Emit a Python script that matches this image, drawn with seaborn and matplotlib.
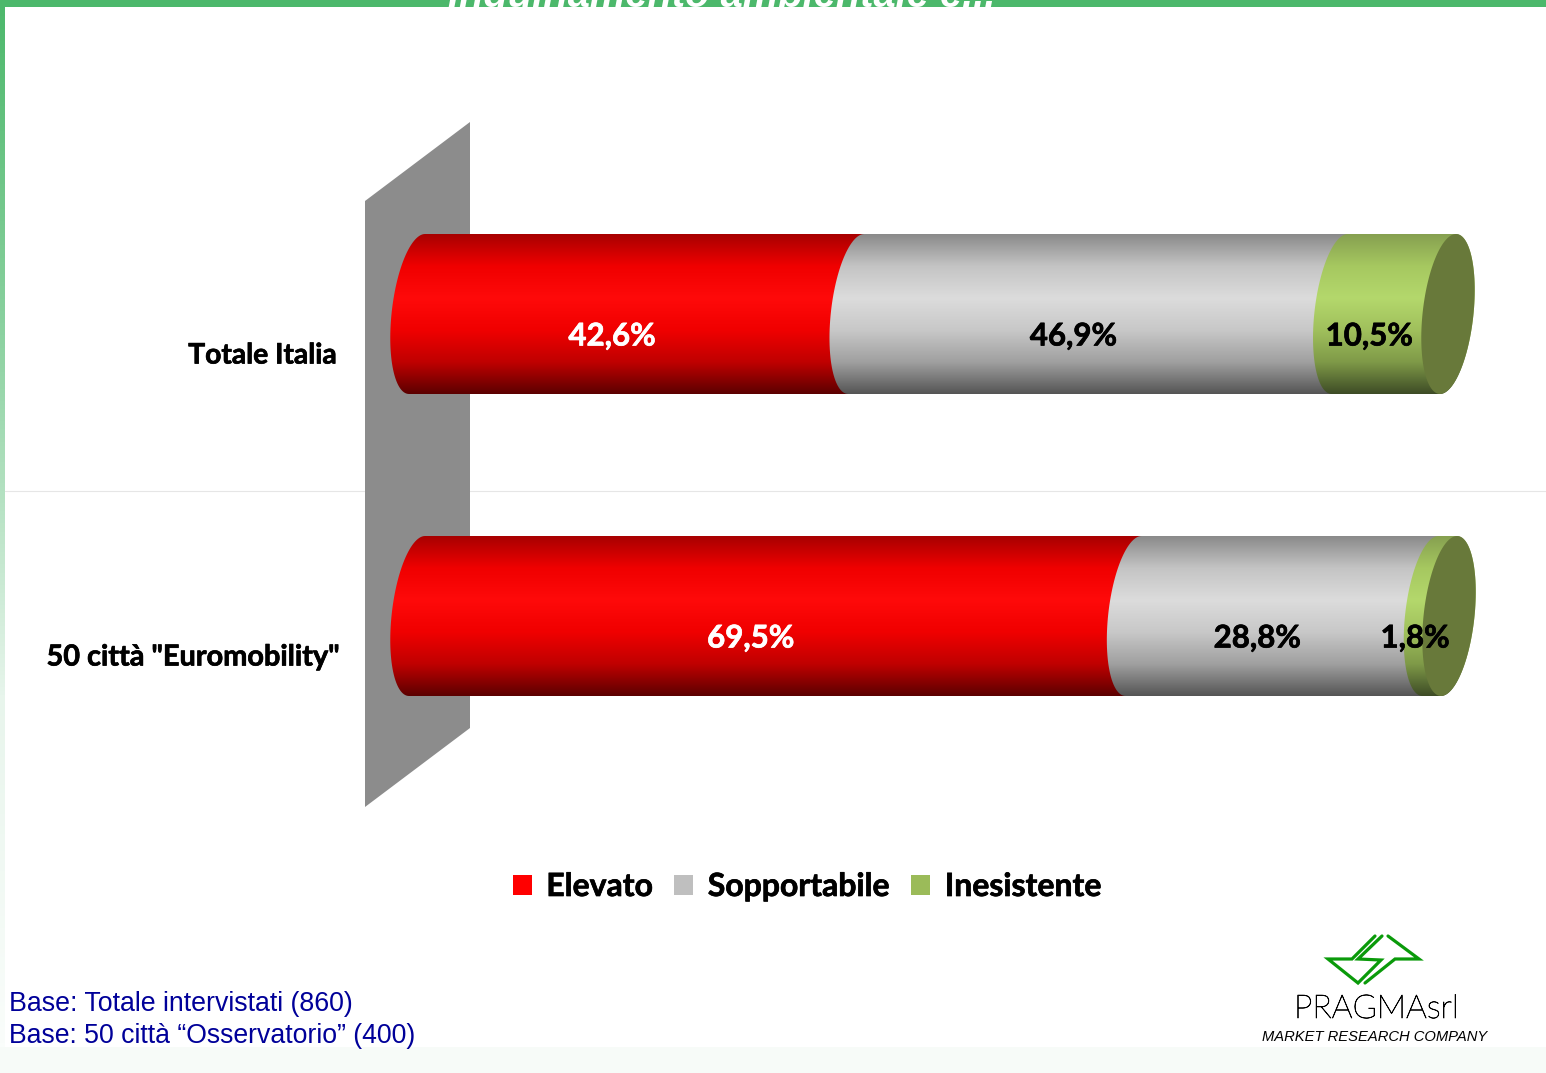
import matplotlib
matplotlib.use("Agg")
import matplotlib.pyplot as plt
import matplotlib.patheffects as pe
import numpy as np
import pandas as pd
import seaborn as sns
from matplotlib.colors import LinearSegmentedColormap
from matplotlib.patches import Patch, Polygon, Rectangle
from matplotlib.path import Path
from matplotlib.patches import PathPatch
from matplotlib.lines import Line2D

categories = ["Totale Italia", '50 città "Euromobility"']
elevato = [42.6, 69.5]
sopportabile = [46.9, 28.8]
inesistente = [10.5, 1.8]
series_names = ["Elevato", "Sopportabile", "Inesistente"]
label_text = [["42,6%", "69,5%"], ["46,9%", "28,8%"], ["10,5%", "1,8%"]]
label_colors = ["white", "black", "black"]
legend_colors = ["#ff0000", "#bfbfbf", "#9bbb59"]
gradients = [
    ["#a80000", "#f00000", "#ff0a0a", "#f00000", "#c00000", "#5c0000"],
    ["#8a8a8a", "#c4c4c4", "#dcdcdc", "#c8c8c8", "#a0a0a0", "#555555"],
    ["#86a050", "#a6c860", "#b4d86c", "#a0c05c", "#7f9a48", "#3e4c26"],
]
cap_color = "#68793a"
footer = ["Base: Totale intervistati (860)", "Base: 50 città “Osservatorio” (400)"]

W, H = 1546, 1073
sns.set_theme(style="white")
plt.rcParams["font.family"] = ["Lato", "DejaVu Sans"]
fig = plt.figure(figsize=(W / 100, H / 100), dpi=100, facecolor="white")

# page furniture in pixel coordinates
bg = fig.add_axes([0, 0, 1, 1], zorder=0)
bg.set_xlim(0, W); bg.set_ylim(H, 0); bg.axis("off")
side = LinearSegmentedColormap.from_list("side", ["#4cb86b", "#8fd3a3", "#e8f5ec", "#fafdfb"])
bg.imshow(np.linspace(0, 1, 256)[:, None], extent=(0, 5, 1047, 0), cmap=side, aspect="auto", zorder=1)
bg.set_xlim(0, W); bg.set_ylim(H, 0)
bg.add_patch(Rectangle((0, 0), W, 7, color="#4cb86b", lw=0, zorder=2))
bg.add_patch(Rectangle((0, 1047), W, H - 1047, color="#f7fbf8", lw=0, zorder=2))
bg.add_line(Line2D([5, W], [490.8, 490.8], color="#e6e6e6", lw=0.8, zorder=2))
bg.add_patch(Polygon([(365, 201), (470, 122), (470, 728), (365, 807)], color="#8c8c8c", lw=0, zorder=3))
bg.text(722, 7, "Inquinamento ambientale è...", color="white", ha="center", va="baseline",
        family="Liberation Sans", weight="bold", style="italic", fontsize=28.7, zorder=4)

# chart: 0% at x=417 px, 100% at x=1448 px; rows centred at y=314 and y=616 px
x0_px, pct_px = 417.0, 10.31
y0_px, row_px = 314.0, 302.0
ax_l, ax_r, ax_t, ax_b = 365, 1480, 110, 815
ax = fig.add_axes([ax_l / W, 1 - ax_b / H, (ax_r - ax_l) / W, (ax_b - ax_t) / H], zorder=2)
ax.patch.set_alpha(0)

rows = []
for i, c in enumerate(categories):
    cum = 0
    for s, vals in zip(series_names, [elevato, sopportabile, inesistente]):
        cum += vals[i]
        rows.append({"categoria": c, "serie": s, "cum": cum})
df = pd.DataFrame(rows)
sns.barplot(data=df, x="cum", y="categoria", hue="serie", hue_order=series_names, dodge=False,
            order=categories, palette=legend_colors, width=160 / row_px, legend=False, ax=ax)
ax.set_xlim((ax_l - x0_px) / pct_px, (ax_r - x0_px) / pct_px)
ax.set_ylim((ax_b - y0_px) / row_px, (ax_t - y0_px) / row_px)
xlim, ylim = ax.get_xlim(), ax.get_ylim()

hw = 25.5 / pct_px        # half width of the cylinder end
shear = 8 / pct_px        # tilt of the ellipse
k = np.linspace(0, np.pi, 60)


def half_curve(xc, yc, hh, sign):
    """half of a tilted ellipse, from top to bottom; sign=-1 bulges left"""
    ys = yc - hh * np.cos(k)
    xs = xc + sign * hw * np.sin(k) + shear * np.cos(k)
    return np.column_stack([xs, ys])


for s_idx, cont in enumerate(ax.containers):
    cmap = LinearSegmentedColormap.from_list(f"g{s_idx}", gradients[s_idx])
    for b_idx, bar in enumerate(cont):
        bar.set_visible(False)
        end = bar.get_width()
        prev = end - [elevato, sopportabile, inesistente][s_idx][b_idx]
        yc = bar.get_y() + bar.get_height() / 2
        hh = bar.get_height() / 2
        pts = np.vstack([half_curve(prev, yc, hh, -1), half_curve(end, yc, hh, 1)[::-1]])
        clip = PathPatch(Path(np.vstack([pts, pts[:1]]), closed=True), transform=ax.transData, fc="none", ec="none")
        ax.add_patch(clip)
        im = ax.imshow(np.linspace(0, 1, 256)[:, None], cmap=cmap, aspect="auto", zorder=2 + s_idx * 0.1,
                       extent=(prev - hw - 2, end + hw + 2, yc + hh, yc - hh))
        im.set_clip_path(clip)
        if s_idx == 2:
            cap = np.vstack([half_curve(end, yc, hh, -1), half_curve(end, yc, hh, 1)[::-1]])
            ax.add_patch(Polygon(cap, closed=True, fc=cap_color, ec="none", zorder=3))
        ax.annotate(label_text[s_idx][b_idx], xy=((prev + end) / 2, yc), xytext=(-24.5 * 0.72, -22.5 * 0.72),
                    textcoords="offset points", ha="center", va="center", fontsize=22.5, weight="bold",
                    color=label_colors[s_idx], zorder=5,
                    path_effects=[pe.withStroke(linewidth=0.5, foreground=label_colors[s_idx])])
ax.set_xlim(xlim); ax.set_ylim(ylim)

ax.set_xlabel(""); ax.set_ylabel("")
ax.set_xticks([])
sns.despine(ax=ax, left=True, bottom=True)
ax.tick_params(axis="y", length=0, pad=0)
for t, lab, xp, fs in zip(ax.get_yticklabels(), categories, [337, 340], [20.3, 20.8]):
    t.set_visible(False)
    ax.annotate(lab, xy=(0, ax.get_yticks()[categories.index(lab)]), xycoords=("axes fraction", "data"),
                xytext=((xp - ax_l) * 0.72, -41.5 * 0.72), textcoords="offset points", ha="right", va="center",
                fontsize=fs, weight="bold", color="black", annotation_clip=False,
                path_effects=[pe.withStroke(linewidth=0.5, foreground="black")])

handles = [Patch(fc=c, ec="none") for c in legend_colors]
leg = fig.legend(handles, series_names, ncol=3, frameon=False, loc="center left",
                 bbox_to_anchor=(484 / W, 1 - 886.5 / H), prop={"weight": "bold", "size": 23},
                 handlelength=0.6, handleheight=0.6, handletextpad=0.45, columnspacing=0.66, labelcolor="black")
for txt in leg.get_texts():
    txt.set_path_effects([pe.withStroke(linewidth=0.5, foreground="black")])

# footer and logo
top = fig.add_axes([0, 0, 1, 1], zorder=5)
top.set_xlim(0, W); top.set_ylim(H, 0); top.axis("off"); top.patch.set_alpha(0)
for y, line, fs in zip([1004, 1036], footer, [19.3, 19.15]):
    top.text(9, y, line, color="#000099", family="Liberation Sans", fontsize=fs, ha="left", va="center")
logo = "#0a9a0a"
for pts in [
    [(1382, 936), (1358, 959), (1381, 960), (1358, 983), (1328, 959), (1352, 959), (1375, 936)],
    [(1388, 936), (1419, 959), (1395, 959), (1365, 983)],
]:
    top.add_line(Line2D(*zip(*pts), color=logo, lw=2.3, solid_joinstyle="miter"))
top.text(1294, 1009, "PRAGMAsrl", family="Lato", weight="light", fontsize=23.6, color="black", ha="left", va="center",
         path_effects=[pe.withStroke(linewidth=0.5, foreground="black")])
top.text(1375, 1037, "MARKET RESEARCH COMPANY", family="Liberation Sans", style="italic", fontsize=10.6,
         color="black", ha="center", va="center")

fig.savefig("out.png", dpi=100, facecolor="white")
